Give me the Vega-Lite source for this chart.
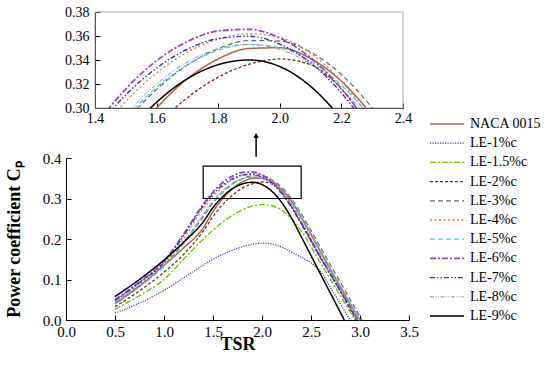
{
  "$schema": "https://vega.github.io/schema/vega-lite/v6.json",
  "padding": 5,
  "background": "white",
  "bounds": "flush",
  "spacing": 50,
  "config": {
    "view": {"stroke": null},
    "font": "Liberation Serif, Times New Roman, serif",
    "axis": {
      "zindex": 1,
      "domainColor": "black",
      "tickColor": "black",
      "labelColor": "black",
      "titleColor": "black",
      "labelFont": "Liberation Serif, Times New Roman, serif",
      "titleFont": "Liberation Serif, Times New Roman, serif",
      "grid": false,
      "labelFlush": false,
      "labelOverlap": false,
      "tickSize": -5,
      "titleFontWeight": "bold",
      "titleFontSize": 18
    },
    "legend": {"labelFont": "Liberation Serif, Times New Roman, serif"}
  },
  "datasets": {
    "curves": [
      {"s": "NACA 0015", "x": 0.5, "y": 0.040}, {"s": "NACA 0015", "x": 0.75, "y": 0.083}, {"s": "NACA 0015", "x": 1.0, "y": 0.135}, {"s": "NACA 0015", "x": 1.2, "y": 0.178}, {"s": "NACA 0015", "x": 1.4, "y": 0.2274}, {"s": "NACA 0015", "x": 1.5, "y": 0.2676}, {"s": "NACA 0015", "x": 1.6, "y": 0.2999}, {"s": "NACA 0015", "x": 1.7, "y": 0.3244}, {"s": "NACA 0015", "x": 1.8, "y": 0.3409}, {"s": "NACA 0015", "x": 1.9, "y": 0.3496}, {"s": "NACA 0015", "x": 2.0, "y": 0.3502}, {"s": "NACA 0015", "x": 2.1, "y": 0.3412}, {"s": "NACA 0015", "x": 2.2, "y": 0.3223}, {"s": "NACA 0015", "x": 2.3, "y": 0.2934}, {"s": "NACA 0015", "x": 2.4, "y": 0.2546}, {"s": "NACA 0015", "x": 2.6, "y": 0.168}, {"s": "NACA 0015", "x": 2.8, "y": 0.082}, {"s": "NACA 0015", "x": 3.0, "y": 0.0},

      {"s": "LE-1%c", "x": 0.5, "y": 0.017}, {"s": "LE-1%c", "x": 0.75, "y": 0.042}, {"s": "LE-1%c", "x": 1.0, "y": 0.073}, {"s": "LE-1%c", "x": 1.25, "y": 0.112}, {"s": "LE-1%c", "x": 1.5, "y": 0.150}, {"s": "LE-1%c", "x": 1.75, "y": 0.177}, {"s": "LE-1%c", "x": 1.9, "y": 0.187}, {"s": "LE-1%c", "x": 2.0, "y": 0.190}, {"s": "LE-1%c", "x": 2.1, "y": 0.188}, {"s": "LE-1%c", "x": 2.2, "y": 0.180}, {"s": "LE-1%c", "x": 2.3, "y": 0.168}, {"s": "LE-1%c", "x": 2.4, "y": 0.155}, {"s": "LE-1%c", "x": 2.5, "y": 0.141}, {"s": "LE-1%c", "x": 2.6, "y": 0.118}, {"s": "LE-1%c", "x": 2.7, "y": 0.080}, {"s": "LE-1%c", "x": 2.8, "y": 0.040}, {"s": "LE-1%c", "x": 2.9, "y": 0.0},

      {"s": "LE-1.5%c", "x": 0.5, "y": 0.027}, {"s": "LE-1.5%c", "x": 0.75, "y": 0.060}, {"s": "LE-1.5%c", "x": 1.0, "y": 0.100}, {"s": "LE-1.5%c", "x": 1.25, "y": 0.163}, {"s": "LE-1.5%c", "x": 1.5, "y": 0.222}, {"s": "LE-1.5%c", "x": 1.75, "y": 0.266}, {"s": "LE-1.5%c", "x": 1.9, "y": 0.281}, {"s": "LE-1.5%c", "x": 2.0, "y": 0.285}, {"s": "LE-1.5%c", "x": 2.1, "y": 0.282}, {"s": "LE-1.5%c", "x": 2.2, "y": 0.272}, {"s": "LE-1.5%c", "x": 2.3, "y": 0.250}, {"s": "LE-1.5%c", "x": 2.4, "y": 0.220}, {"s": "LE-1.5%c", "x": 2.6, "y": 0.140}, {"s": "LE-1.5%c", "x": 2.8, "y": 0.060}, {"s": "LE-1.5%c", "x": 2.95, "y": 0.0},

      {"s": "LE-2%c", "x": 0.5, "y": 0.033}, {"s": "LE-2%c", "x": 0.75, "y": 0.072}, {"s": "LE-2%c", "x": 1.0, "y": 0.118}, {"s": "LE-2%c", "x": 1.2, "y": 0.162}, {"s": "LE-2%c", "x": 1.4, "y": 0.2194}, {"s": "LE-2%c", "x": 1.5, "y": 0.2554}, {"s": "LE-2%c", "x": 1.6, "y": 0.2852}, {"s": "LE-2%c", "x": 1.7, "y": 0.3086}, {"s": "LE-2%c", "x": 1.8, "y": 0.3257}, {"s": "LE-2%c", "x": 1.9, "y": 0.3364}, {"s": "LE-2%c", "x": 2.0, "y": 0.3409}, {"s": "LE-2%c", "x": 2.1, "y": 0.336}, {"s": "LE-2%c", "x": 2.2, "y": 0.3159}, {"s": "LE-2%c", "x": 2.3, "y": 0.2802}, {"s": "LE-2%c", "x": 2.4, "y": 0.237}, {"s": "LE-2%c", "x": 2.6, "y": 0.152}, {"s": "LE-2%c", "x": 2.8, "y": 0.070}, {"s": "LE-2%c", "x": 2.96, "y": 0.0},

      {"s": "LE-3%c", "x": 0.5, "y": 0.042}, {"s": "LE-3%c", "x": 0.75, "y": 0.085}, {"s": "LE-3%c", "x": 1.0, "y": 0.135}, {"s": "LE-3%c", "x": 1.2, "y": 0.190}, {"s": "LE-3%c", "x": 1.4, "y": 0.2544}, {"s": "LE-3%c", "x": 1.5, "y": 0.2884}, {"s": "LE-3%c", "x": 1.6, "y": 0.3155}, {"s": "LE-3%c", "x": 1.7, "y": 0.3358}, {"s": "LE-3%c", "x": 1.8, "y": 0.3494}, {"s": "LE-3%c", "x": 1.9, "y": 0.3562}, {"s": "LE-3%c", "x": 2.0, "y": 0.3558}, {"s": "LE-3%c", "x": 2.1, "y": 0.3465}, {"s": "LE-3%c", "x": 2.2, "y": 0.3279}, {"s": "LE-3%c", "x": 2.3, "y": 0.300}, {"s": "LE-3%c", "x": 2.4, "y": 0.2628}, {"s": "LE-3%c", "x": 2.6, "y": 0.178}, {"s": "LE-3%c", "x": 2.8, "y": 0.093}, {"s": "LE-3%c", "x": 3.02, "y": 0.0},

      {"s": "LE-4%c", "x": 0.5, "y": 0.045}, {"s": "LE-4%c", "x": 0.75, "y": 0.088}, {"s": "LE-4%c", "x": 1.0, "y": 0.138}, {"s": "LE-4%c", "x": 1.2, "y": 0.200}, {"s": "LE-4%c", "x": 1.4, "y": 0.2754}, {"s": "LE-4%c", "x": 1.5, "y": 0.3055}, {"s": "LE-4%c", "x": 1.6, "y": 0.3292}, {"s": "LE-4%c", "x": 1.7, "y": 0.3465}, {"s": "LE-4%c", "x": 1.8, "y": 0.3574}, {"s": "LE-4%c", "x": 1.9, "y": 0.3619}, {"s": "LE-4%c", "x": 2.0, "y": 0.3588}, {"s": "LE-4%c", "x": 2.1, "y": 0.3456}, {"s": "LE-4%c", "x": 2.2, "y": 0.3223}, {"s": "LE-4%c", "x": 2.3, "y": 0.2889}, {"s": "LE-4%c", "x": 2.4, "y": 0.250}, {"s": "LE-4%c", "x": 2.6, "y": 0.165}, {"s": "LE-4%c", "x": 2.8, "y": 0.080}, {"s": "LE-4%c", "x": 3.0, "y": 0.0},

      {"s": "LE-5%c", "x": 0.5, "y": 0.040}, {"s": "LE-5%c", "x": 0.75, "y": 0.083}, {"s": "LE-5%c", "x": 1.0, "y": 0.132}, {"s": "LE-5%c", "x": 1.2, "y": 0.188}, {"s": "LE-5%c", "x": 1.4, "y": 0.2588}, {"s": "LE-5%c", "x": 1.5, "y": 0.2915}, {"s": "LE-5%c", "x": 1.6, "y": 0.3173}, {"s": "LE-5%c", "x": 1.7, "y": 0.3361}, {"s": "LE-5%c", "x": 1.8, "y": 0.348}, {"s": "LE-5%c", "x": 1.9, "y": 0.3529}, {"s": "LE-5%c", "x": 2.0, "y": 0.3502}, {"s": "LE-5%c", "x": 2.1, "y": 0.339}, {"s": "LE-5%c", "x": 2.2, "y": 0.3191}, {"s": "LE-5%c", "x": 2.3, "y": 0.2905}, {"s": "LE-5%c", "x": 2.4, "y": 0.2533}, {"s": "LE-5%c", "x": 2.6, "y": 0.170}, {"s": "LE-5%c", "x": 2.8, "y": 0.085}, {"s": "LE-5%c", "x": 3.0, "y": 0.0},

      {"s": "LE-6%c", "x": 0.5, "y": 0.050}, {"s": "LE-6%c", "x": 0.75, "y": 0.094}, {"s": "LE-6%c", "x": 1.0, "y": 0.145}, {"s": "LE-6%c", "x": 1.2, "y": 0.212}, {"s": "LE-6%c", "x": 1.4, "y": 0.2853}, {"s": "LE-6%c", "x": 1.5, "y": 0.316}, {"s": "LE-6%c", "x": 1.6, "y": 0.3394}, {"s": "LE-6%c", "x": 1.7, "y": 0.3554}, {"s": "LE-6%c", "x": 1.8, "y": 0.3642}, {"s": "LE-6%c", "x": 1.9, "y": 0.3656}, {"s": "LE-6%c", "x": 2.0, "y": 0.3583}, {"s": "LE-6%c", "x": 2.1, "y": 0.3418}, {"s": "LE-6%c", "x": 2.2, "y": 0.3162}, {"s": "LE-6%c", "x": 2.3, "y": 0.2815}, {"s": "LE-6%c", "x": 2.4, "y": 0.241}, {"s": "LE-6%c", "x": 2.6, "y": 0.155}, {"s": "LE-6%c", "x": 2.8, "y": 0.074}, {"s": "LE-6%c", "x": 2.98, "y": 0.0},

      {"s": "LE-7%c", "x": 0.5, "y": 0.048}, {"s": "LE-7%c", "x": 0.75, "y": 0.092}, {"s": "LE-7%c", "x": 1.0, "y": 0.142}, {"s": "LE-7%c", "x": 1.2, "y": 0.208}, {"s": "LE-7%c", "x": 1.4, "y": 0.2817}, {"s": "LE-7%c", "x": 1.5, "y": 0.3109}, {"s": "LE-7%c", "x": 1.6, "y": 0.3333}, {"s": "LE-7%c", "x": 1.7, "y": 0.349}, {"s": "LE-7%c", "x": 1.8, "y": 0.3578}, {"s": "LE-7%c", "x": 1.9, "y": 0.3598}, {"s": "LE-7%c", "x": 2.0, "y": 0.3533}, {"s": "LE-7%c", "x": 2.1, "y": 0.3376}, {"s": "LE-7%c", "x": 2.2, "y": 0.3126}, {"s": "LE-7%c", "x": 2.3, "y": 0.2783}, {"s": "LE-7%c", "x": 2.4, "y": 0.239}, {"s": "LE-7%c", "x": 2.6, "y": 0.153}, {"s": "LE-7%c", "x": 2.8, "y": 0.072}, {"s": "LE-7%c", "x": 2.97, "y": 0.0},

      {"s": "LE-8%c", "x": 0.5, "y": 0.043}, {"s": "LE-8%c", "x": 0.75, "y": 0.086}, {"s": "LE-8%c", "x": 1.0, "y": 0.136}, {"s": "LE-8%c", "x": 1.2, "y": 0.192}, {"s": "LE-8%c", "x": 1.4, "y": 0.2612}, {"s": "LE-8%c", "x": 1.5, "y": 0.2943}, {"s": "LE-8%c", "x": 1.6, "y": 0.320}, {"s": "LE-8%c", "x": 1.7, "y": 0.3383}, {"s": "LE-8%c", "x": 1.8, "y": 0.3493}, {"s": "LE-8%c", "x": 1.9, "y": 0.353}, {"s": "LE-8%c", "x": 2.0, "y": 0.3489}, {"s": "LE-8%c", "x": 2.1, "y": 0.3366}, {"s": "LE-8%c", "x": 2.2, "y": 0.3162}, {"s": "LE-8%c", "x": 2.3, "y": 0.2876}, {"s": "LE-8%c", "x": 2.4, "y": 0.2507}, {"s": "LE-8%c", "x": 2.6, "y": 0.164}, {"s": "LE-8%c", "x": 2.8, "y": 0.078}, {"s": "LE-8%c", "x": 2.98, "y": 0.0},

      {"s": "LE-9%c", "x": 0.5, "y": 0.058}, {"s": "LE-9%c", "x": 0.75, "y": 0.100}, {"s": "LE-9%c", "x": 1.0, "y": 0.148}, {"s": "LE-9%c", "x": 1.2, "y": 0.192}, {"s": "LE-9%c", "x": 1.4, "y": 0.2423}, {"s": "LE-9%c", "x": 1.5, "y": 0.2775}, {"s": "LE-9%c", "x": 1.6, "y": 0.3048}, {"s": "LE-9%c", "x": 1.7, "y": 0.3244}, {"s": "LE-9%c", "x": 1.8, "y": 0.3361}, {"s": "LE-9%c", "x": 1.9, "y": 0.340}, {"s": "LE-9%c", "x": 2.0, "y": 0.3345}, {"s": "LE-9%c", "x": 2.1, "y": 0.318}, {"s": "LE-9%c", "x": 2.2, "y": 0.2906}, {"s": "LE-9%c", "x": 2.3, "y": 0.2522}, {"s": "LE-9%c", "x": 2.4, "y": 0.206}, {"s": "LE-9%c", "x": 2.6, "y": 0.112}, {"s": "LE-9%c", "x": 2.84, "y": 0.0}
    ]
  },
  "vconcat": [
    {
      "width": 337,
      "height": 96,
      "layer": [
        {
          "data": {"values": [{"x1": 1.4, "x2": 2.4, "y1": 0.30, "y2": 0.38}]},
          "mark": {"type": "rect", "filled": false, "stroke": "#a8a8a8", "strokeWidth": 1},
          "encoding": {
            "x": {"field": "x1", "type": "quantitative", "scale": {"domain": [1.4, 2.4], "range": [29, 337], "nice": false, "zero": false},
                  "axis": {"title": null, "values": [1.4, 1.6, 1.8, 2.0, 2.2, 2.4], "format": ".1f", "labelFontSize": 14, "labelPadding": 8, "labelOverlap": false}},
            "x2": {"field": "x2"},
            "y": {"field": "y1", "type": "quantitative", "scale": {"domain": [0.30, 0.38], "nice": false, "zero": false},
                  "axis": {"title": null, "values": [0.30, 0.32, 0.34, 0.36, 0.38], "format": ".2f", "labelFontSize": 14, "offset": -29, "labelPadding": 11, "labelOverlap": false}},
            "y2": {"field": "y2"}
          }
        },
        {
          "data": {"name": "curves"},
          "mark": {"type": "line", "interpolate": "monotone", "clip": true},
          "encoding": {
            "x": {"field": "x", "type": "quantitative", "scale": {"domain": [1.4, 2.4], "range": [29, 337], "nice": false, "zero": false},
                  "axis": {"title": null, "values": [1.4, 1.6, 1.8, 2.0, 2.2, 2.4], "format": ".1f", "labelFontSize": 14, "labelPadding": 8, "labelOverlap": false}},
            "y": {"field": "y", "type": "quantitative", "scale": {"domain": [0.30, 0.38], "nice": false, "zero": false},
                  "axis": {"title": null, "values": [0.30, 0.32, 0.34, 0.36, 0.38], "format": ".2f", "labelFontSize": 14, "offset": -29, "labelPadding": 11, "labelOverlap": false}},
            "color": {"field": "s", "type": "nominal",
              "scale": {"domain": ["NACA 0015", "LE-1%c", "LE-1.5%c", "LE-2%c", "LE-3%c", "LE-4%c", "LE-5%c", "LE-6%c", "LE-7%c", "LE-8%c", "LE-9%c"],
                        "range": ["#b5603f", "#3a3ad6", "#66cc00", "#7a2a1a", "#5a7080", "#d0843a", "#4cc8d8", "#a040d0", "#3030c8", "#909090", "#000000"]},
              "legend": {"title": null, "orient": "none", "legendX": 362, "legendY": 105, "symbolType": "M-1,0H5.8", "symbolSize": 100, "labelFontSize": 14, "labelOffset": 28, "rowPadding": 5.2, "labelColor": "black"}},
            "strokeDash": {"field": "s", "type": "nominal",
              "scale": {"domain": ["NACA 0015", "LE-1%c", "LE-1.5%c", "LE-2%c", "LE-3%c", "LE-4%c", "LE-5%c", "LE-6%c", "LE-7%c", "LE-8%c", "LE-9%c"],
                        "range": [[1, 0], [1.2, 1.3], [6, 2, 2, 2], [3, 2], [5, 3], [2, 2.5], [5, 3], [6, 2, 2, 2], [5, 2, 1.5, 2, 1.5, 2], [4, 1.5, 1, 1.5, 1, 1.5], [1, 0]]},
              "legend": {"title": null, "orient": "none", "legendX": 362, "legendY": 105, "symbolType": "M-1,0H5.8", "symbolSize": 100, "labelFontSize": 14, "labelOffset": 28, "rowPadding": 5.2, "labelColor": "black"}},
            "strokeWidth": {"field": "s", "type": "nominal",
              "scale": {"type": "ordinal", "domain": ["NACA 0015", "LE-1%c", "LE-1.5%c", "LE-2%c", "LE-3%c", "LE-4%c", "LE-5%c", "LE-6%c", "LE-7%c", "LE-8%c", "LE-9%c"],
                        "range": [1.5, 1.2, 1.4, 1.3, 1.2, 1.3, 1.2, 1.8, 1.4, 1.0, 1.5]},
              "legend": {"title": null, "orient": "none", "legendX": 362, "legendY": 105, "symbolType": "M-1,0H5.8", "symbolSize": 100, "labelFontSize": 14, "labelOffset": 28, "rowPadding": 5.2, "labelColor": "black"}}
          }
        }
      ]
    },
    {
      "width": 343,
      "height": 162,
      "layer": [
        {
          "data": {"name": "curves"},
          "mark": {"type": "line", "interpolate": "monotone"},
          "encoding": {
            "x": {"field": "x", "type": "quantitative", "scale": {"domain": [0, 3.5], "nice": false},
                  "axis": {"title": "TSR", "values": [0, 0.5, 1, 1.5, 2, 2.5, 3, 3.5], "format": ".1f", "labelFontSize": 15, "labelPadding": 9, "titlePadding": -4, "labelOverlap": false}},
            "y": {"field": "y", "type": "quantitative", "scale": {"domain": [0, 0.4], "nice": false},
                  "axis": {"title": "Power coefficient Cₚ", "values": [0, 0.1, 0.2, 0.3, 0.4], "format": ".1f", "labelFontSize": 15, "labelPadding": 10, "titlePadding": 19, "labelOverlap": false}},
            "color": {"field": "s", "type": "nominal",
              "scale": {"domain": ["NACA 0015", "LE-1%c", "LE-1.5%c", "LE-2%c", "LE-3%c", "LE-4%c", "LE-5%c", "LE-6%c", "LE-7%c", "LE-8%c", "LE-9%c"],
                        "range": ["#b5603f", "#3a3ad6", "#66cc00", "#7a2a1a", "#5a7080", "#d0843a", "#4cc8d8", "#a040d0", "#3030c8", "#909090", "#000000"]},
              "legend": {"title": null, "orient": "none", "legendX": 362, "legendY": 105, "symbolType": "M-1,0H5.8", "symbolSize": 100, "labelFontSize": 14, "labelOffset": 28, "rowPadding": 5.2, "labelColor": "black"}},
            "strokeDash": {"field": "s", "type": "nominal",
              "scale": {"domain": ["NACA 0015", "LE-1%c", "LE-1.5%c", "LE-2%c", "LE-3%c", "LE-4%c", "LE-5%c", "LE-6%c", "LE-7%c", "LE-8%c", "LE-9%c"],
                        "range": [[1, 0], [1.2, 1.3], [6, 2, 2, 2], [3, 2], [5, 3], [2, 2.5], [5, 3], [6, 2, 2, 2], [5, 2, 1.5, 2, 1.5, 2], [4, 1.5, 1, 1.5, 1, 1.5], [1, 0]]},
              "legend": {"title": null, "orient": "none", "legendX": 362, "legendY": 105, "symbolType": "M-1,0H5.8", "symbolSize": 100, "labelFontSize": 14, "labelOffset": 28, "rowPadding": 5.2, "labelColor": "black"}},
            "strokeWidth": {"field": "s", "type": "nominal",
              "scale": {"type": "ordinal", "domain": ["NACA 0015", "LE-1%c", "LE-1.5%c", "LE-2%c", "LE-3%c", "LE-4%c", "LE-5%c", "LE-6%c", "LE-7%c", "LE-8%c", "LE-9%c"],
                        "range": [1.5, 1.2, 1.4, 1.3, 1.2, 1.3, 1.2, 1.8, 1.4, 1.0, 1.5]},
              "legend": {"title": null, "orient": "none", "legendX": 362, "legendY": 105, "symbolType": "M-1,0H5.8", "symbolSize": 100, "labelFontSize": 14, "labelOffset": 28, "rowPadding": 5.2, "labelColor": "black"}}
          }
        },
        {
          "data": {"values": [{"x1": 1.4, "x2": 2.4, "y1": 0.30, "y2": 0.38}]},
          "mark": {"type": "rect", "filled": false, "stroke": "black", "strokeWidth": 1.2},
          "encoding": {
            "x": {"field": "x1", "type": "quantitative", "scale": {"domain": [0, 3.5], "nice": false}},
            "x2": {"field": "x2"},
            "y": {"field": "y1", "type": "quantitative", "scale": {"domain": [0, 0.4], "nice": false}},
            "y2": {"field": "y2"}
          }
        },
        {
          "data": {"values": [{"x": 1.94, "y1": 0.403, "y2": 0.452}]},
          "mark": {"type": "rule", "stroke": "black", "strokeWidth": 1.5, "clip": false},
          "encoding": {
            "x": {"field": "x", "type": "quantitative", "scale": {"domain": [0, 3.5], "nice": false}},
            "y": {"field": "y1", "type": "quantitative", "scale": {"domain": [0, 0.4], "nice": false}},
            "y2": {"field": "y2"}
          }
        },
        {
          "data": {"values": [{"x": 1.94, "y": 0.456}]},
          "mark": {"type": "point", "shape": "triangle-up", "filled": true, "color": "black", "size": 30, "opacity": 1, "clip": false},
          "encoding": {
            "x": {"field": "x", "type": "quantitative", "scale": {"domain": [0, 3.5], "nice": false}},
            "y": {"field": "y", "type": "quantitative", "scale": {"domain": [0, 0.4], "nice": false}}
          }
        }
      ]
    }
  ]
}
